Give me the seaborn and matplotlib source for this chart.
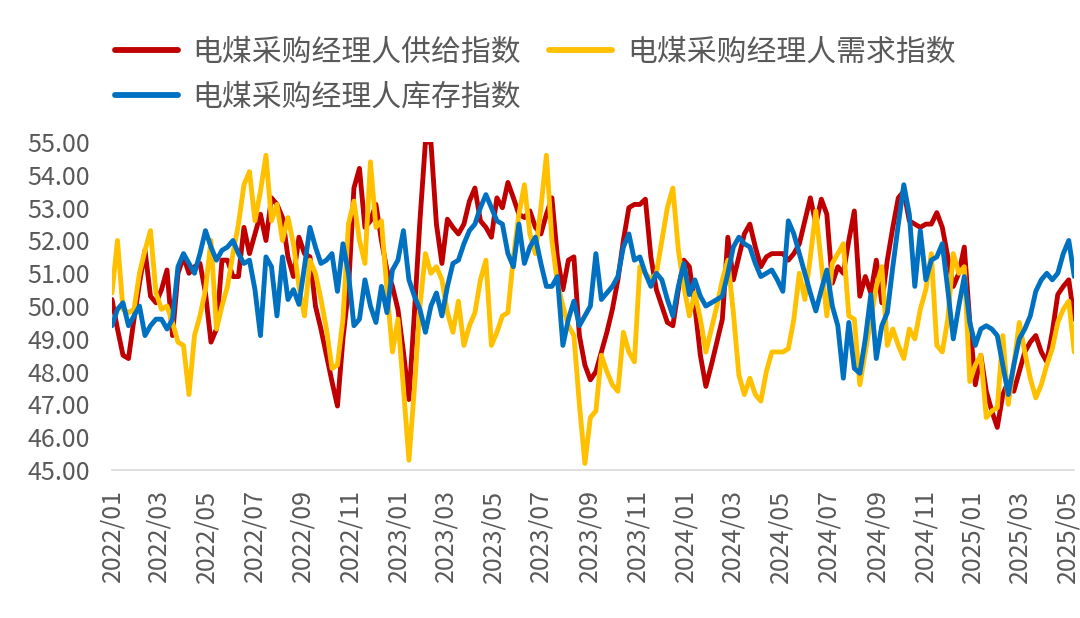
import pandas as pd
import matplotlib
matplotlib.use('Agg')
import matplotlib.pyplot as plt
import matplotlib.dates as mdates
from matplotlib.ticker import FormatStrFormatter
import seaborn as sns

# weekly index values (2022/01 - 2025/05)
supply = [
    50.2, 49.3, 48.5, 48.4, 49.6, 50.7, 51.7, 50.3, 50.1, 50.5,
    51.1, 49.1, 51.0, 51.5, 51.0, 51.2, 51.3, 50.4, 48.9, 49.3,
    51.4, 51.4, 50.9, 50.9, 52.4, 51.6, 52.2, 52.8, 52.0, 53.3,
    53.1, 52.7, 51.5, 50.9, 52.1, 51.6, 51.5, 50.0, 49.3, 48.5,
    47.7, 46.95, 49.0, 50.5, 53.6, 54.2, 52.4, 52.6, 53.1, 52.0,
    51.1, 50.6, 49.9, 48.6, 47.15, 49.8, 52.6, 55.0, 55.0, 52.5,
    51.3, 52.65, 52.4, 52.2, 52.5, 53.2, 53.6, 52.6, 52.4, 52.1,
    53.3, 53.0, 53.77, 53.3, 52.8, 52.7, 52.9, 52.4, 52.2, 52.8,
    53.3, 51.5, 50.5, 51.4, 51.5, 49.1, 48.2, 47.75, 48.0, 48.6,
    49.2, 49.9, 50.8, 52.0, 53.0, 53.1, 53.1, 53.26, 51.5, 50.5,
    50.0, 49.5, 49.4, 50.5, 51.4, 51.2, 50.0, 48.5, 47.55, 48.2,
    48.9, 49.6, 52.1, 50.8, 51.5, 52.2, 52.5, 51.8, 51.2, 51.5,
    51.6, 51.6, 51.6, 51.4, 51.6, 51.9, 52.6, 53.3, 52.5, 53.26,
    52.8, 50.7, 51.2, 51.0, 52.0, 52.9, 50.3, 50.9, 50.4, 51.4,
    50.1, 51.4, 52.4, 53.3, 53.5, 52.6, 52.5, 52.4, 52.5, 52.5,
    52.85, 52.4, 51.5, 50.6, 51.0, 51.8, 49.5, 47.6, 48.5, 47.4,
    46.8, 46.3, 47.3, 47.7, 47.4, 48.0, 48.6, 48.9, 49.1, 48.6,
    48.3, 49.2, 50.35, 50.6, 50.8, 49.6,
]
demand = [
    50.4, 52.0, 49.9, 49.8, 49.9, 51.0, 51.7, 52.3, 50.4, 49.9,
    50.0, 49.5, 48.9, 48.8, 47.3, 49.1, 49.7, 50.5, 52.0, 49.3,
    50.0, 50.6, 51.6, 52.5, 53.7, 54.1, 52.6, 53.5, 54.6, 52.6,
    53.1, 52.0, 52.7, 51.9, 50.6, 49.7, 51.4, 51.0, 50.2, 49.3,
    48.1, 48.2, 49.6, 52.5, 53.2, 52.0, 51.3, 54.4, 52.4, 52.6,
    50.5, 48.6, 49.6, 47.5, 45.3, 47.5, 50.0, 51.6, 51.0, 51.2,
    50.8, 49.8, 49.2, 50.15, 48.8, 49.4, 49.8, 50.8, 51.4, 48.8,
    49.2, 49.7, 49.8, 51.5, 52.8, 53.7, 52.2, 51.6, 53.0, 54.6,
    52.0, 50.7, 50.0, 49.4, 49.1, 47.0, 45.2, 46.6, 46.8, 48.5,
    48.0, 47.6, 47.4, 49.2, 48.6, 48.3, 51.2, 51.0, 50.8, 51.0,
    52.0, 53.0, 53.6, 51.7, 50.6, 49.7, 50.4, 49.6, 48.6, 49.3,
    50.0, 50.8, 51.4, 49.8, 47.9, 47.3, 47.8, 47.3, 47.1, 48.0,
    48.6, 48.6, 48.6, 48.7, 49.6, 51.0, 50.2, 51.5, 52.9, 51.3,
    49.7, 51.3, 51.6, 51.9, 49.7, 49.6, 47.6, 48.6, 49.6, 50.6,
    51.2, 48.8, 49.3, 48.8, 48.4, 49.3, 49.0, 49.9, 50.5, 51.6,
    48.8, 48.6, 49.6, 51.6, 51.0, 51.2, 47.7, 48.2, 48.5, 46.6,
    46.8, 46.9, 49.1, 47.0, 48.2, 49.5, 48.6, 47.8, 47.2, 47.6,
    48.2, 48.7, 49.5, 49.9, 50.15, 48.6,
]
stock = [
    49.4, 49.9, 50.1, 49.4, 49.7, 50.0, 49.1, 49.4, 49.6, 49.6,
    49.3, 49.6, 51.2, 51.6, 51.3, 51.0, 51.6, 52.3, 51.8, 51.4,
    51.7, 51.8, 52.0, 51.6, 51.3, 51.4, 50.5, 49.1, 51.5, 51.2,
    49.7, 51.5, 50.2, 50.5, 50.05, 51.2, 52.4, 51.8, 51.3, 51.4,
    51.6, 50.45, 51.9, 51.0, 49.4, 49.6, 50.8, 50.0, 49.5, 50.6,
    49.8, 51.1, 51.4, 52.3, 50.8, 50.3, 49.9, 49.2, 50.0, 50.4,
    49.7, 50.6, 51.3, 51.4, 51.9, 52.3, 52.5, 53.0, 53.4, 53.0,
    52.6, 52.5, 51.6, 51.2, 52.5, 51.3, 51.8, 52.1, 51.3, 50.6,
    50.6, 50.9, 48.8, 49.6, 50.15, 49.4, 49.7, 50.0, 51.6, 50.2,
    50.4, 50.6, 50.9, 51.8, 52.2, 51.4, 51.5, 51.0, 50.6, 51.0,
    50.8, 50.2, 49.7, 50.6, 51.3, 50.35, 50.8, 50.3, 50.0, 50.1,
    50.2, 50.3, 51.0, 51.8, 52.1, 51.9, 51.8, 51.3, 50.9, 51.0,
    51.1, 50.8, 50.45, 52.6, 52.2, 51.6, 51.0, 50.4, 49.85, 50.5,
    51.1, 50.0, 49.4, 47.8, 49.5, 48.1, 47.95, 49.0, 50.35, 48.4,
    49.4, 49.8, 51.2, 52.5, 53.7, 52.8, 50.6, 52.3, 50.8, 51.4,
    51.5, 51.9, 50.5, 49.0, 50.0, 50.9, 49.5, 48.8, 49.3, 49.4,
    49.3, 49.1, 48.2, 47.3, 48.2, 49.0, 49.3, 49.7, 50.45, 50.8,
    51.0, 50.8, 51.0, 51.6, 52.0, 50.9,
]
names = ['电煤采购经理人供给指数', '电煤采购经理人需求指数', '电煤采购经理人库存指数']
colors = ['#C00000', '#FFC000', '#0070C0']

dates = pd.date_range('2022-01-01', periods=len(supply), freq='7D')
df = pd.DataFrame({'date': dates, names[0]: supply, names[1]: demand, names[2]: stock})

sns.set_style('white')
plt.rcParams['font.family'] = ['Noto Sans CJK SC', 'DejaVu Sans']

fig = plt.figure(figsize=(10.8, 6.18), dpi=100)
ax = fig.add_axes([0.1037, 0.2395, 0.891, 0.5305])

for name, c in zip(names, colors):
    sns.lineplot(data=df, x='date', y=name, ax=ax, color=c, linewidth=3.5, label=name)

ax.set_ylim(45, 55)
ax.set_xlim(dates[0], dates[-1])
ax.set_yticks(range(45, 56))
ax.yaxis.set_major_formatter(FormatStrFormatter('%.2f'))
ax.xaxis.set_major_locator(mdates.MonthLocator(bymonth=[1, 3, 5, 7, 9, 11]))
ax.xaxis.set_major_formatter(mdates.DateFormatter('%Y/%m'))
ax.set_xlabel('')
ax.set_ylabel('')

for s in ['top', 'right', 'left']:
    ax.spines[s].set_visible(False)
ax.spines['bottom'].set_color('#D9D9D9')
ax.spines['bottom'].set_linewidth(1.2)

ax.tick_params(axis='y', length=0, pad=16, labelsize=18, labelcolor='#595959')
ax.tick_params(axis='x', direction='out', length=9, width=1.2, color='#D9D9D9',
               pad=5, labelsize=18, labelcolor='#595959', labelrotation=90)

h, l = ax.get_legend_handles_labels()
order = [0, 2, 1]
leg = ax.legend([h[i] for i in order], [l[i] for i in order], ncol=2, frameon=False,
                loc='lower left', bbox_to_anchor=(-0.0095, 1.053), fontsize=21.5,
                handlelength=2.1, handletextpad=0.5, columnspacing=0.95, labelspacing=0.47,
                borderaxespad=0)
for t in leg.get_texts():
    t.set_color('#595959')
for line in leg.get_lines():
    line.set_linewidth(4.2)
    line.set_solid_capstyle('round')

fig.savefig('out.png', dpi=100)
